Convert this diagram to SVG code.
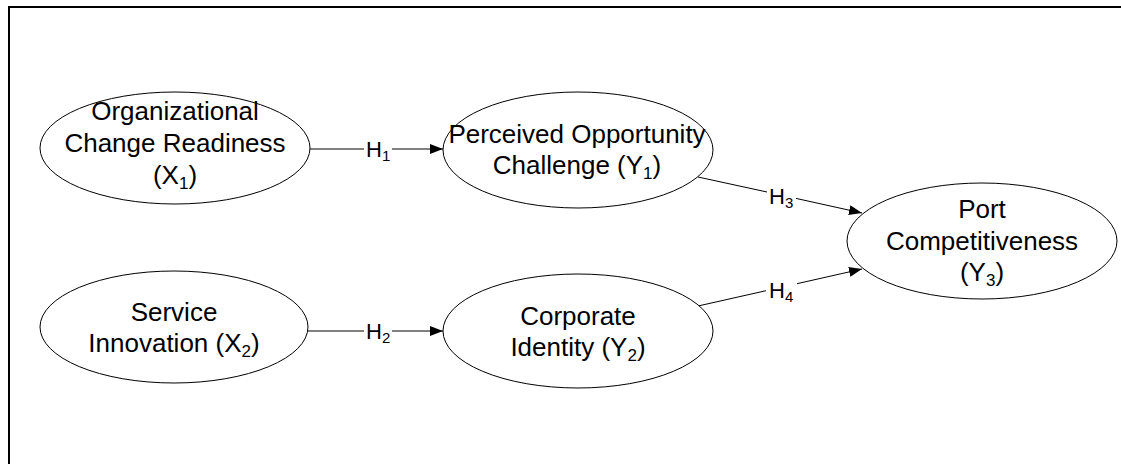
<svg xmlns="http://www.w3.org/2000/svg" width="1121" height="464" viewBox="0 0 1121 464">
<style>
.node ellipse{fill:#fff;stroke:#000;stroke-width:1}
.node text{font-family:"Liberation Sans",Arial,sans-serif;font-size:26px;fill:#000;text-anchor:middle}
.sub{font-size:17px}
.conn line{stroke:#000;stroke-width:1}
.lbl{font-family:"Liberation Sans",Arial,sans-serif;font-size:22px;fill:#000}
.lsub{font-size:15px}
</style>
<defs>
<marker id="arr" markerUnits="userSpaceOnUse" markerWidth="14" markerHeight="11" refX="13" refY="5" orient="auto">
<path d="M0,0 L13,5 L0,10 z" fill="#000"/>
</marker>
</defs>
<rect width="1121" height="464" fill="#fff"/>
<path d="M9,470 L9,7 L1130,7" fill="none" stroke="#000" stroke-width="2"/>
<g id="connectors" class="conn">
<line x1="310" y1="149" x2="364" y2="149"/>
<line x1="392" y1="149" x2="443" y2="149" marker-end="url(#arr)"/>
<text class="lbl" x="366" y="157">H<tspan class="lsub" dy="4">1</tspan></text>
<line x1="308" y1="331" x2="364" y2="331"/>
<line x1="392" y1="331" x2="443" y2="331" marker-end="url(#arr)"/>
<text class="lbl" x="366" y="339">H<tspan class="lsub" dy="4">2</tspan></text>
<line x1="698" y1="177" x2="767" y2="192"/>
<line x1="796" y1="198.4" x2="862" y2="213" marker-end="url(#arr)"/>
<text class="lbl" x="769" y="204">H<tspan class="lsub" dy="4">3</tspan></text>
<line x1="698" y1="306" x2="766" y2="290.7"/>
<line x1="797" y1="283.7" x2="862" y2="269" marker-end="url(#arr)"/>
<text class="lbl" x="769" y="298">H<tspan class="lsub" dy="4">4</tspan></text>
</g>
<g id="X1" class="node">
<ellipse cx="175" cy="148" rx="135" ry="56"/>
<text x="175" y="120">Organizational</text>
<text x="175" y="152">Change Readiness</text>
<text x="175" y="184">(X<tspan class="sub" dy="5">1</tspan><tspan dy="-5">)</tspan></text>
</g>
<g id="Y1" class="node">
<ellipse cx="578" cy="150" rx="135" ry="58"/>
<text x="577" y="143">Perceived Opportunity</text>
<text x="577" y="174">Challenge (Y<tspan class="sub" dy="5">1</tspan><tspan dy="-5">)</tspan></text>
</g>
<g id="X2" class="node">
<ellipse cx="174" cy="327" rx="134" ry="56"/>
<text x="174" y="321">Service</text>
<text x="174" y="352">Innovation (X<tspan class="sub" dy="5">2</tspan><tspan dy="-5">)</tspan></text>
</g>
<g id="Y2" class="node">
<ellipse cx="578" cy="331" rx="135" ry="57"/>
<text x="578" y="325">Corporate</text>
<text x="578" y="356">Identity (Y<tspan class="sub" dy="5">2</tspan><tspan dy="-5">)</tspan></text>
</g>
<g id="Y3" class="node">
<ellipse cx="982" cy="241" rx="135" ry="58"/>
<text x="982" y="218">Port</text>
<text x="982" y="250">Competitiveness</text>
<text x="982" y="281">(Y<tspan class="sub" dy="5">3</tspan><tspan dy="-5">)</tspan></text>
</g>
</svg>
